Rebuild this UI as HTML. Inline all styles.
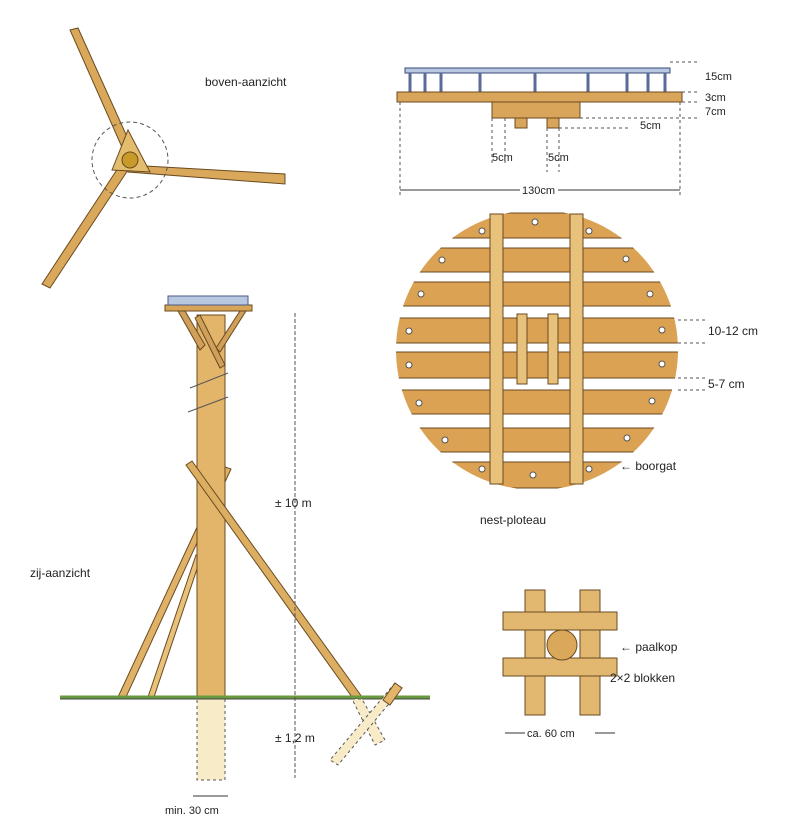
<!DOCTYPE html>
<html><head><meta charset="utf-8"><style>
html,body{margin:0;padding:0;background:#fff}
svg{display:block}
text{font-family:"Liberation Sans",sans-serif;fill:#222}
</style></head><body>
<svg width="800" height="837" viewBox="0 0 800 837">
<defs>
<clipPath id="disc"><ellipse cx="537" cy="350" rx="141" ry="140"/></clipPath>
</defs>
<!-- top view -->
<g stroke="#6a4a20" stroke-width="1">
<polygon points="70,30 78,28 133,150 125,154" fill="#d9a85a"/>
<polygon points="128,165 285,174 285,184 128,172" fill="#d9a85a"/>
<polygon points="120,165 128,170 50,288 42,284" fill="#d9a85a"/>
<polygon points="112,170 128,130 150,172" fill="#e3bd6e"/>
<circle cx="130" cy="160" r="8" fill="#c89a2a"/>
</g>
<circle cx="130" cy="160" r="38" fill="none" stroke="#555" stroke-dasharray="4,3"/>
<text x="205" y="86" font-size="12">boven-aanzicht</text>

<!-- side view -->
<rect x="197" y="697" width="28" height="83" fill="#f8ecc8" stroke="#555" stroke-dasharray="3,3"/>
<g stroke="#6a4a20" stroke-width="1">
<polygon points="225,467 231,469 126,697 118,697" fill="#e0b268"/>
<polygon points="196,555 201,557 154,697 148,697" fill="#e8c27a"/>
<polygon points="197,315 225,315 225,697 197,697" fill="#e2b56a"/>
<polygon points="186,465 192,461 362,697 352,697" fill="#dcae62"/>
<polygon points="165,305 252,305 252,311 165,311" fill="#d8a558"/>
<polygon points="178,311 185,311 205,345 200,350" fill="#d0a05a"/>
<polygon points="240,311 246,311 220,352 216,348" fill="#d0a05a"/>
<polygon points="195,318 200,315 225,365 220,368" fill="#d0a05a"/>
</g>
<rect x="168" y="296" width="80" height="9" fill="#b8c8e0" stroke="#4a5a8a"/>
<line x1="190" y1="388" x2="228" y2="373" stroke="#555"/>
<line x1="188" y1="412" x2="228" y2="397" stroke="#555"/>
<line x1="60" y1="697" x2="430" y2="697" stroke="#6a9a40" stroke-width="3"/>
<line x1="60" y1="699" x2="430" y2="699" stroke="#444" stroke-width="1"/>
<polygon points="352,699 362,699 385,740 375,745" fill="#f8ecc8" stroke="#555" stroke-dasharray="3,3"/>
<polygon points="395,683 402,688 338,765 330,760" fill="#f8ecc8" stroke="#555" stroke-dasharray="3,3"/>
<polygon points="395,683 402,688 390,705 383,700" fill="#e2b56a" stroke="#6a4a20"/>
<line x1="295" y1="313" x2="295" y2="778" stroke="#555" stroke-dasharray="4,2"/>
<text x="275" y="507" font-size="12">± 10 m</text>
<text x="275" y="742" font-size="12">± 1,2 m</text>
<text x="30" y="577" font-size="12">zij-aanzicht</text>
<line x1="193" y1="796" x2="228" y2="796" stroke="#333"/>
<text x="165" y="814" font-size="11">min.  30 cm</text>

<!-- profile -->
<rect x="405" y="68" width="265" height="5" fill="#b8c8e0" stroke="#3a4a7a"/>
<g stroke="#5a6a9a" stroke-width="3">
<line x1="410" y1="73" x2="410" y2="92"/><line x1="425" y1="73" x2="425" y2="92"/><line x1="441" y1="73" x2="441" y2="92"/>
<line x1="480" y1="73" x2="480" y2="92"/><line x1="535" y1="73" x2="535" y2="92"/><line x1="588" y1="73" x2="588" y2="92"/>
<line x1="627" y1="73" x2="627" y2="92"/><line x1="648" y1="73" x2="648" y2="92"/><line x1="665" y1="73" x2="665" y2="92"/>
</g>
<g stroke="#6a4a20" stroke-width="1" fill="#d9a55a">
<rect x="397" y="92" width="285" height="10"/>
<rect x="492" y="102" width="88" height="16"/>
<rect x="515" y="118" width="12" height="10"/>
<rect x="547" y="118" width="12" height="10"/>
</g>
<g stroke="#555" stroke-dasharray="3,3" fill="none">
<line x1="400" y1="102" x2="400" y2="195"/><line x1="680" y1="102" x2="680" y2="195"/>
<line x1="670" y1="62" x2="700" y2="62"/><line x1="682" y1="92" x2="700" y2="92"/>
<line x1="682" y1="102" x2="700" y2="102"/><line x1="580" y1="118" x2="700" y2="118"/>
<line x1="559" y1="128" x2="630" y2="128"/>
<line x1="492" y1="118" x2="492" y2="165"/><line x1="505" y1="118" x2="505" y2="165"/>
<line x1="547" y1="128" x2="547" y2="172"/><line x1="559" y1="128" x2="559" y2="172"/>
</g>
<text x="705" y="80" font-size="11">15cm</text>
<text x="705" y="101" font-size="11">3cm</text>
<text x="705" y="115" font-size="11">7cm</text>
<text x="640" y="129" font-size="11">5cm</text>
<text x="492" y="161" font-size="11">5cm</text>
<text x="548" y="161" font-size="11">5cm</text>
<line x1="400" y1="190" x2="520" y2="190" stroke="#333"/><line x1="558" y1="190" x2="680" y2="190" stroke="#333"/>
<text x="522" y="194" font-size="11">130cm</text>

<!-- nest plateau -->
<g clip-path="url(#disc)" stroke="#6a4a20" stroke-width="1" fill="#dba253">
<rect x="390" y="213" width="300" height="25"/>
<rect x="390" y="248" width="300" height="24"/>
<rect x="390" y="282" width="300" height="24"/>
<rect x="390" y="318" width="300" height="25"/>
<rect x="390" y="352" width="300" height="26"/>
<rect x="390" y="390" width="300" height="24"/>
<rect x="390" y="428" width="300" height="24"/>
<rect x="390" y="462" width="300" height="26"/>
</g>
<g stroke="#6a4a20" fill="#e8c27a">
<rect x="490" y="214" width="13" height="270"/>
<rect x="570" y="214" width="13" height="270"/>
<rect x="517" y="314" width="10" height="70"/>
<rect x="548" y="314" width="10" height="70"/>
</g>
<g fill="#fff" stroke="#555">
<circle cx="535" cy="222" r="3"/><circle cx="482" cy="231" r="3"/><circle cx="589" cy="231" r="3"/>
<circle cx="442" cy="260" r="3"/><circle cx="626" cy="259" r="3"/>
<circle cx="421" cy="294" r="3"/><circle cx="650" cy="294" r="3"/>
<circle cx="409" cy="331" r="3"/><circle cx="662" cy="330" r="3"/>
<circle cx="409" cy="365" r="3"/><circle cx="662" cy="364" r="3"/>
<circle cx="419" cy="403" r="3"/><circle cx="652" cy="401" r="3"/>
<circle cx="445" cy="440" r="3"/><circle cx="627" cy="438" r="3"/>
<circle cx="482" cy="469" r="3"/><circle cx="589" cy="469" r="3"/><circle cx="533" cy="475" r="3"/>
</g>
<g stroke="#555" stroke-dasharray="3,3"><line x1="678" y1="320" x2="705" y2="320"/><line x1="678" y1="343" x2="705" y2="343"/><line x1="678" y1="378" x2="705" y2="378"/><line x1="678" y1="390" x2="705" y2="390"/></g>
<text x="708" y="335" font-size="12">10-12 cm</text>
<text x="708" y="388" font-size="12">5-7 cm</text>
<text x="620" y="470" font-size="12">← boorgat</text>
<text x="480" y="524" font-size="12">nest-ploteau</text>

<!-- paalkop -->
<g stroke="#6a4a20" fill="#e2b870">
<rect x="525" y="590" width="20" height="125"/>
<rect x="580" y="590" width="20" height="125"/>
<rect x="503" y="612" width="114" height="18"/>
<rect x="503" y="658" width="114" height="18"/>
<circle cx="562" cy="645" r="15" fill="#d9a85a"/>
</g>
<text x="620" y="651" font-size="12">← paalkop</text>
<text x="610" y="682" font-size="12">2×2 blokken</text>
<line x1="505" y1="733" x2="525" y2="733" stroke="#333"/><line x1="595" y1="733" x2="615" y2="733" stroke="#333"/>
<text x="527" y="737" font-size="11">ca. 60 cm</text>
</svg>
</body></html>
